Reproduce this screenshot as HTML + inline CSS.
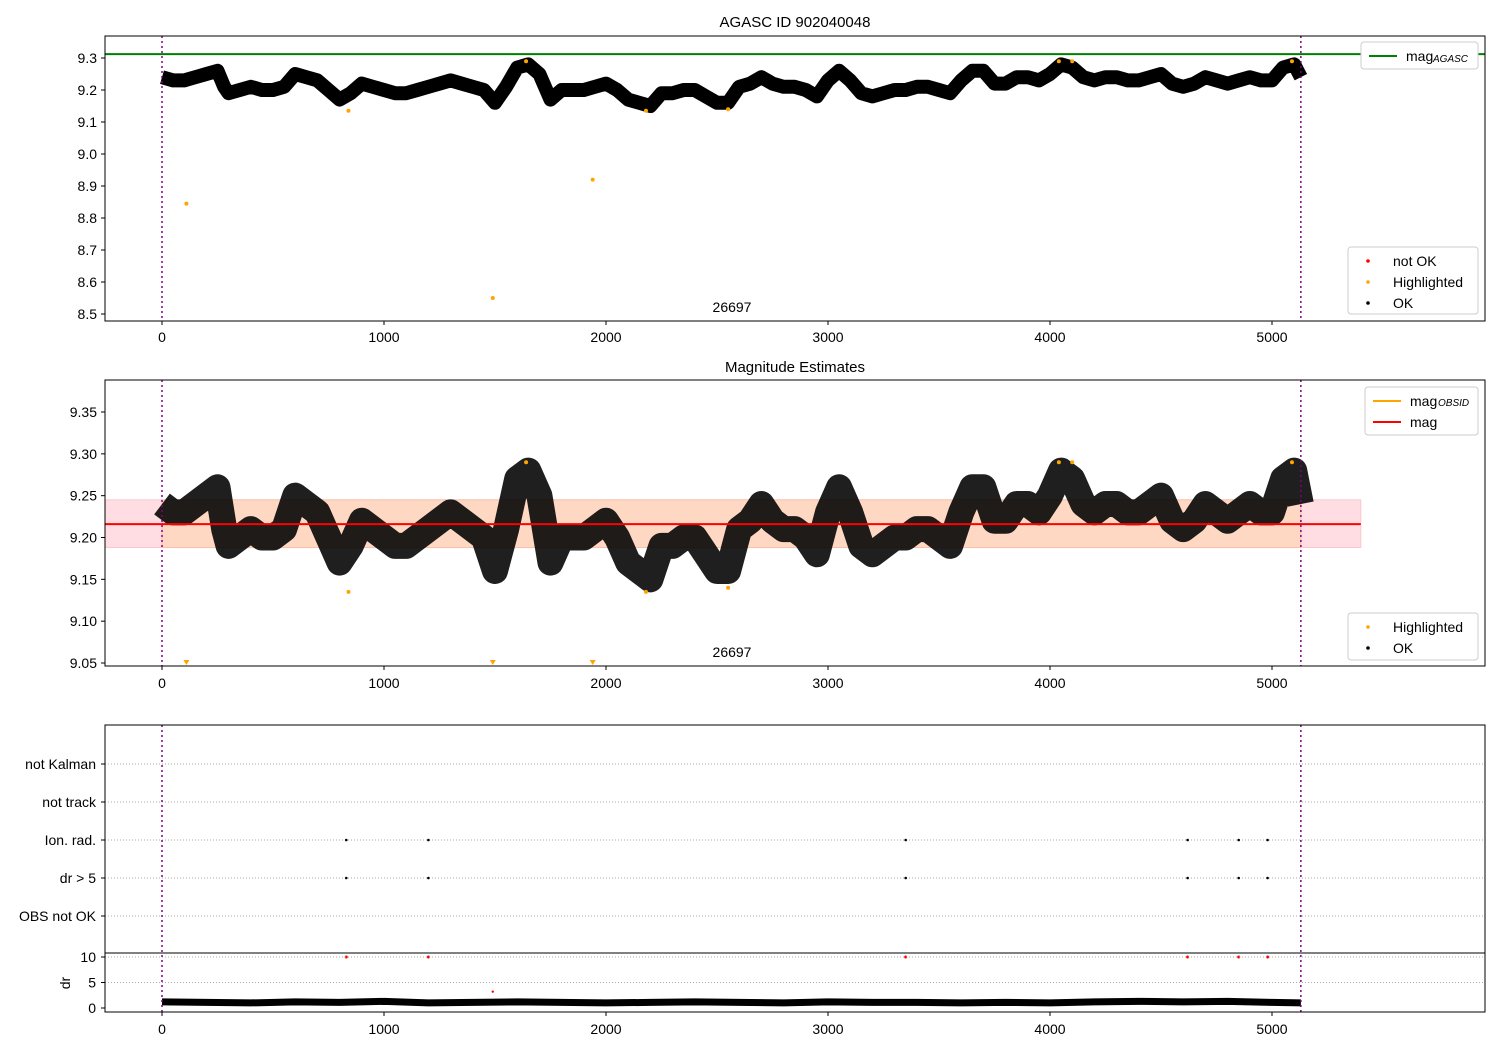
<!DOCTYPE html>
<html><head><meta charset="utf-8"><style>
body{margin:0;background:#fff}
svg{display:block;font-family:"Liberation Sans","DejaVu Sans",sans-serif}
</style></head><body>
<svg id="c" width="1500" height="1050" viewBox="0 0 1500 1050"></svg>
<script>
const times=[0,50,100,150,200,250,280,300,350,400,450,500,550,600,650,700,750,800,850,900,950,1000,1050,1100,1150,1200,1250,1300,1350,1400,1450,1500,1550,1600,1650,1700,1750,1800,1850,1900,1950,2000,2050,2100,2150,2200,2250,2300,2350,2400,2450,2500,2550,2600,2650,2700,2750,2800,2850,2900,2950,3000,3050,3100,3150,3200,3250,3300,3350,3400,3450,3500,3550,3600,3650,3700,3750,3800,3850,3900,3950,4000,4050,4100,4150,4200,4250,4300,4350,4400,4450,4500,4550,4600,4650,4700,4750,4800,4850,4900,4950,5000,5050,5100,5130];
const mags=[9.24,9.23,9.23,9.24,9.25,9.26,9.21,9.19,9.20,9.21,9.20,9.20,9.21,9.25,9.24,9.23,9.20,9.17,9.19,9.22,9.21,9.20,9.19,9.19,9.20,9.21,9.22,9.23,9.22,9.21,9.20,9.16,9.21,9.27,9.28,9.25,9.17,9.20,9.20,9.20,9.21,9.22,9.20,9.17,9.16,9.15,9.19,9.19,9.20,9.20,9.18,9.16,9.16,9.21,9.22,9.24,9.22,9.21,9.21,9.20,9.18,9.23,9.26,9.23,9.19,9.18,9.19,9.20,9.20,9.21,9.21,9.20,9.19,9.23,9.26,9.26,9.22,9.22,9.24,9.24,9.23,9.25,9.28,9.27,9.24,9.23,9.24,9.24,9.23,9.23,9.24,9.25,9.22,9.21,9.22,9.24,9.23,9.22,9.23,9.24,9.23,9.23,9.27,9.28,9.24];
const hiTimes=[110,840,1490,1640,1940,2180,2550,4040,4100,5090];
const hiMags=[8.845,9.135,8.55,9.29,8.92,9.135,9.14,9.29,9.29,9.29];
const flagTimes=[830,1200,3350,4620,4850,4980];
const drTimes=[0,200,400,600,800,1000,1200,1400,1600,1800,2000,2200,2400,2600,2800,3000,3200,3400,3600,3800,4000,4200,4400,4600,4800,5000,5130];
const drVals=[1.2,1.1,1.0,1.2,1.1,1.3,1.0,1.1,1.2,1.1,1.0,1.1,1.2,1.1,1.0,1.2,1.1,1.1,1.0,1.1,1.0,1.2,1.3,1.2,1.3,1.1,1.0];
const xTicks=[0,1000,2000,3000,4000,5000];
const y1Ticks=[9.3,9.2,9.1,9.0,8.9,8.8,8.7,8.6,8.5];
const y2Ticks=[9.35,9.30,9.25,9.20,9.15,9.10,9.05];
const flagRows=["not Kalman","not track","Ion. rad.","dr > 5","OBS not OK"];
const drTicks=[0,5,10];
const magAgasc=9.312, magMean=9.216, magLo=9.188, magHi=9.245;

const S=document.getElementById('c');const NS='http://www.w3.org/2000/svg';
function el(t,a,p){const e=document.createElementNS(NS,t);for(const k in a)e.setAttribute(k,a[k]);(p||S).appendChild(e);return e;}
function tx(x,y,s,a){const e=el('text',Object.assign({x:x,y:y,'font-size':14,fill:'#000'},a||{}));e.textContent=s;return e;}
const X=v=>162+v*0.222;
const Y1=v=>58+(9.3-v)*320;
const Y2=v=>412+(9.35-v)*836.7;
const Ydr=v=>1008-v*5.1;
const rowY=[764,802,840,878,916];

function frame(y0,y1,name){const r=el('rect',{x:105,y:y0,width:1380,height:y1-y0,fill:'none',stroke:'#000','stroke-width':1});}
function xaxis(yb,ly){xTicks.forEach(t=>{el('line',{x1:X(t),x2:X(t),y1:yb,y2:yb+4,stroke:'#000'});const e=tx(X(t),ly,String(t),{'text-anchor':'middle'});});}
function vlines(y0,y1){[0,5130].forEach(t=>{const l=el('line',{x1:X(t),x2:X(t),y1:y0,y2:y1,stroke:'#800080','stroke-width':1.5,'stroke-dasharray':'2,3'});});}
function poly(Yf,w,col){return el('polyline',{points:times.map((t,i)=>X(t)+','+Yf(mags[i])).join(' '),fill:'none',stroke:col,'stroke-width':w,'stroke-linejoin':'round'});}

// Panel 1
let t=tx(795,27,'AGASC ID 902040048',{'text-anchor':'middle','font-size':15});
let g=el('line',{x1:105,x2:1485,y1:Y1(magAgasc),y2:Y1(magAgasc),stroke:'green','stroke-width':2});
let p=poly(Y1,14,'#000');
hiTimes.forEach((h,i)=>{const c=el('circle',{cx:X(h),cy:Y1(hiMags[i]),r:2,fill:'orange'});});
vlines(36,321);frame(36,321,'top-axes');
y1Ticks.forEach(v=>{el('line',{x1:101,x2:105,y1:Y1(v),y2:Y1(v),stroke:'#000'});const e=tx(97,Y1(v)+5,v.toFixed(1),{'text-anchor':'end'});});
xaxis(321,342);
tx(732,312,'26697',{'text-anchor':'middle'});
function legend(x,y,w,h,items,name){const gg=el('g',{});el('rect',{x:x,y:y,width:w,height:h,rx:3,fill:'#fff',stroke:'#ccc'},gg);items.forEach((it,i)=>{const yy=y+14+i*21;if(it.t=='l')el('line',{x1:x+8,x2:x+36,y1:yy,y2:yy,stroke:it.c,'stroke-width':2},gg);else el('circle',{cx:x+20,cy:yy,r:1.8,fill:it.c},gg);const e=tx(x+45,yy+5,it.s,{},gg);gg.appendChild(e);});}
legend(1361,42,117,27,[{t:'l',c:'green',s:'mag'}],'legend-agasc');tx(1433,62,'AGASC',{'font-size':10,'font-style':'italic'});
legend(1348,247,130,67,[{t:'p',c:'red',s:'not OK'},{t:'p',c:'orange',s:'Highlighted'},{t:'p',c:'#000',s:'OK'}],'legend-status-top');

// Panel 2
t=tx(795,372,'Magnitude Estimates',{'text-anchor':'middle','font-size':15});
let b=el('rect',{x:105,y:Y2(magHi),width:X(5400)-105,height:Y2(magLo)-Y2(magHi),fill:'#ffdde2',stroke:'#f8c8d0'});
b=el('rect',{x:X(0),y:Y2(magHi),width:X(5130)-X(0),height:Y2(magLo)-Y2(magHi),fill:'#ffd8c4',stroke:'#f8c0a8'});
p=poly(Y2,26,'#000');p.setAttribute('opacity','0.88');
let m=el('line',{x1:105,x2:X(5400),y1:Y2(magMean),y2:Y2(magMean),stroke:'red','stroke-width':2});
hiTimes.forEach((h,i)=>{const v=hiMags[i];if(v<9.05){const q=el('polygon',{points:`${X(h)-3},${660} ${X(h)+3},${660} ${X(h)},${665}`,fill:'orange'});}else{const c=el('circle',{cx:X(h),cy:Y2(v),r:2,fill:'orange'});}});
vlines(380,666);frame(380,666,'middle-axes');
y2Ticks.forEach(v=>{el('line',{x1:101,x2:105,y1:Y2(v),y2:Y2(v),stroke:'#000'});const e=tx(97,Y2(v)+5,v.toFixed(2),{'text-anchor':'end'});});
xaxis(666,688);
tx(732,657,'26697',{'text-anchor':'middle'});
legend(1365,387,113,48,[{t:'l',c:'orange',s:'mag'},{t:'l',c:'red',s:'mag'}],'legend-mag');tx(1438,406,'OBSID',{'font-size':10,'font-style':'italic'});
legend(1348,613,130,47,[{t:'p',c:'orange',s:'Highlighted'},{t:'p',c:'#000',s:'OK'}],'legend-status-mid');

// Panel 3 flags
flagRows.forEach((r,i)=>{el('line',{x1:105,x2:1485,y1:rowY[i],y2:rowY[i],stroke:'#aaa','stroke-dasharray':'1,2'});el('line',{x1:101,x2:105,y1:rowY[i],y2:rowY[i],stroke:'#000'});const e=tx(96,rowY[i]+5,r,{'text-anchor':'end'});});
flagTimes.forEach(f=>{[2,3].forEach(ri=>{const c=el('circle',{cx:X(f),cy:rowY[ri],r:1.3,fill:'#000'});});const c=el('circle',{cx:X(f),cy:Ydr(10),r:1.5,fill:'red'});});
el('circle',{cx:X(1490),cy:Ydr(3.2),r:1.2,fill:'red'});
[5,10].forEach(v=>el('line',{x1:105,x2:1485,y1:Ydr(v),y2:Ydr(v),stroke:'#aaa','stroke-dasharray':'1,2'}));
p=el('polyline',{points:drTimes.map((d,i)=>X(d)+','+Ydr(drVals[i])).join(' '),fill:'none',stroke:'#000','stroke-width':7});
vlines(725,1012);
frame(725,953,'flags-axes');frame(953,1012,'dr-axes');
drTicks.forEach(v=>{el('line',{x1:101,x2:105,y1:Ydr(v),y2:Ydr(v),stroke:'#000'});tx(96,Ydr(v)+5,String(v),{'text-anchor':'end'});});
t=tx(70,983,'dr',{'text-anchor':'middle',transform:'rotate(-90 70 983)'});
xaxis(1012,1034);
</script>
</body></html>
